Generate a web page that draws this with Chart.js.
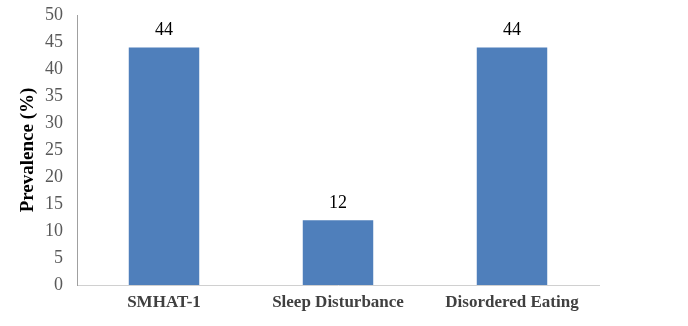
<!DOCTYPE html>
<html>
<head>
<meta charset="utf-8">
<script src="https://cdn.jsdelivr.net/npm/chart.js@4/dist/chart.umd.min.js"></script>
<style>
html,body{margin:0;padding:0;background:#fff;}
#wrap{width:688px;height:326px;position:relative;}
</style>
</head>
<body>
<div id="wrap"><canvas id="c" width="688" height="326"></canvas></div>
<script>
const categories = ["SMHAT-1", "Sleep Disturbance", "Disordered Eating"];
const prevalence = [44, 12, 44];
const yTitle = "Prevalence (%)";

const SERIF = "'Liberation Serif', 'Times New Roman', serif";

const labelPlugin = {
  id: 'barLabels',
  afterDatasetsDraw(chart) {
    const ctx = chart.ctx;
    const meta = chart.getDatasetMeta(0);
    ctx.save();
    ctx.font = "18px " + SERIF;
    ctx.fillStyle = "#000";
    ctx.textAlign = "center";
    ctx.textBaseline = "bottom";
    meta.data.forEach((bar, i) => {
      ctx.fillText(String(prevalence[i]), bar.x, bar.y - 8);
    });
    ctx.restore();
  }
};

new Chart(document.getElementById('c'), {
  type: 'bar',
  data: {
    labels: categories,
    datasets: [{
      data: prevalence,
      backgroundColor: '#4F7FBB',
      borderWidth: 0,
      barPercentage: 1,
      categoryPercentage: 0.405
    }]
  },
  options: {
    responsive: false,
    animation: false,
    devicePixelRatio: 1,
    layout: { padding: { left: 0, right: 89, top: 15, bottom: 0 } },
    plugins: { legend: { display: false }, tooltip: { enabled: false } },
    scales: {
      x: {
        grid: { display: false, drawTicks: false },
        border: { display: true, color: '#D0D0D0', width: 1 },
        ticks: {
          color: '#404040',
          font: { family: SERIF, size: 17, weight: 'bold' },
          padding: 7,
          maxRotation: 0
        },
        afterFit(scale) { scale.height = 41; }
      },
      y: {
        min: 0, max: 50,
        grid: { display: false, drawTicks: false },
        border: { display: true, color: '#A0A0A0', width: 1 },
        ticks: {
          stepSize: 5,
          color: '#595959',
          font: { family: SERIF, size: 18 },
          padding: 14
        },
        title: {
          display: true,
          text: yTitle,
          color: '#000',
          font: { family: SERIF, size: 19, weight: 'bold' },
          padding: { top: 17, bottom: 0 }
        },
        afterFit(scale) { scale.width = 77; scale.paddingTop = 0; scale.paddingBottom = 0; }
      }
    }
  },
  plugins: [labelPlugin]
});
</script>
</body>
</html>
